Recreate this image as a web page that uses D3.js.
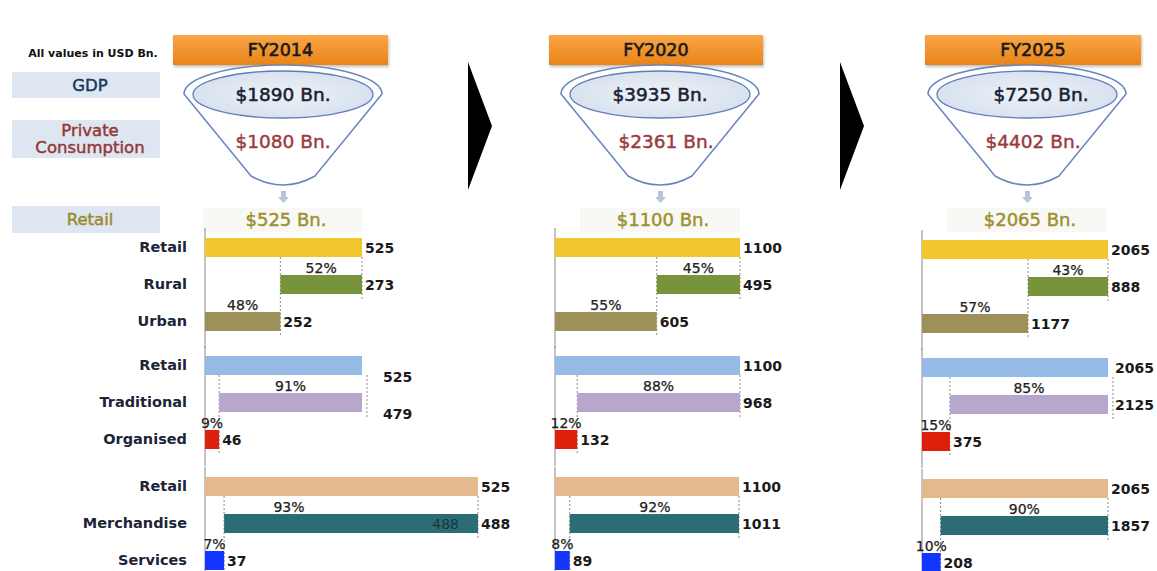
<!DOCTYPE html>
<html>
<head>
<meta charset="utf-8">
<script src="https://cdn.jsdelivr.net/npm/d3@7"></script>
<style>
  body { margin: 0; background: #fff; }
  svg { display: block; font-family: "DejaVu Sans", Verdana, sans-serif; }
</style>
</head>
<body>
<div id="container"></div>
<script>
// values (USD Bn.)
const years = ["FY2014", "FY2020", "FY2025"];
const gdp = [1890, 3935, 7250];
const privateConsumption = [1080, 2361, 4402];
const retail = [525, 1100, 2065];

const rural = [273, 495, 888];
const ruralPct = [52, 45, 43];
const urban = [252, 605, 1177];
const urbanPct = [48, 55, 57];

const traditional = [479, 968, 2125];
const traditionalPct = [91, 88, 85];
const organised = [46, 132, 375];
const organisedPct = [9, 12, 15];

const merchandise = [488, 1011, 1857];
const merchandisePct = [93, 92, 90];
const services = [37, 89, 208];
const servicesPct = [7, 8, 10];

const leftLabels = ["GDP", "Private Consumption", "Retail"];

const groups = [
  { names: ["Retail", "Rural", "Urban"], colors: ["#f1c62f", "#77933c", "#9d9058"],
    second: rural, secondPct: ruralPct, third: urban, thirdPct: urbanPct },
  { names: ["Retail", "Traditional", "Organised"], colors: ["#95bbe6", "#b7a7cc", "#dd1f0c"],
    second: traditional, secondPct: traditionalPct, third: organised, thirdPct: organisedPct },
  { names: ["Retail", "Merchandise", "Services"], colors: ["#e3b98d", "#2c6c77", "#1336ff"],
    second: merchandise, secondPct: merchandisePct, third: services, thirdPct: servicesPct }
];

const width = 1157, height = 571;

// layout
const x0 = [205, 555, 922];
const barW = [[157, 157, 273], [185, 185, 184], [186, 186, 186]];
const labelW = [157, 185, 186];
const groupTop = [238, 356, 477];
const panelDy = [0, 0, 2];
const funnelCx = [283, 660, 1027];
const header = [[173, 388], [549, 763], [925, 1141]];
const valueShift = { "0-1": [18, 11], "2-1": [4, 0] };

const svg = d3.select("#container").append("svg")
  .attr("width", width).attr("height", height);

// semi-bold look: normal face with a thin stroke of the same colour
const semi = (sel, color, w = 0.45) =>
  sel.attr("font-weight", "normal").attr("fill", color).attr("stroke", color).attr("stroke-width", w);

const defs = svg.append("defs");
const og = defs.append("linearGradient").attr("id", "orange").attr("x1", 0).attr("y1", 0).attr("x2", 0).attr("y2", 1);
og.append("stop").attr("offset", "0%").attr("stop-color", "#f9a646");
og.append("stop").attr("offset", "100%").attr("stop-color", "#e8841a");
const eg = defs.append("radialGradient").attr("id", "ell");
eg.append("stop").attr("offset", "0%").attr("stop-color", "#eef2f8");
eg.append("stop").attr("offset", "100%").attr("stop-color", "#d8e2ee");
defs.append("filter").attr("id", "shadow").attr("x", "-5%").attr("y", "-20%").attr("width", "110%").attr("height", "160%")
  .append("feDropShadow").attr("dx", 1).attr("dy", 2).attr("stdDeviation", 1.5).attr("flood-color", "#000").attr("flood-opacity", 0.25);

// left side labels
svg.append("text").attr("x", 93).attr("y", 57).attr("text-anchor", "middle")
  .attr("font-size", 11).attr("font-weight", "bold").attr("fill", "#111")
  .text("All values in USD Bn.");

const boxes = [
  { y: 72, h: 26, color: "#17375e", lines: [leftLabels[0]] },
  { y: 120, h: 38, color: "#953735", lines: ["Private", "Consumption"] },
  { y: 206, h: 27, color: "#9a8a2c", lines: [leftLabels[2]] }
];
boxes.forEach(b => {
  svg.append("rect").attr("x", 12).attr("y", b.y).attr("width", 148).attr("height", b.h)
    .attr("fill", "#dde6f1");
  b.lines.forEach((t, i) => {
    svg.append("text").attr("x", 90)
      .attr("y", b.y + b.h / 2 + (i - (b.lines.length - 1) / 2) * 17)
      .attr("dy", "0.35em").attr("text-anchor", "middle")
      .attr("font-size", 16.5).call(semi, b.color, 0.45).text(t);
  });
});

// chevrons between panels
[468, 840].forEach(ax => {
  svg.append("path").attr("d", `M${ax},62 L${ax + 24},126 L${ax},190 Z`).attr("fill", "#000");
});

years.forEach((yr, p) => {
  const cx = funnelCx[p];
  // header
  const [hx1, hx2] = header[p];
  svg.append("rect").attr("x", hx1).attr("y", 35).attr("width", hx2 - hx1).attr("height", 30)
    .attr("fill", "url(#orange)").attr("filter", "url(#shadow)");
  svg.append("text").attr("x", (hx1 + hx2) / 2).attr("y", 50).attr("dy", "0.36em")
    .attr("text-anchor", "middle").attr("font-size", 17.5).call(semi, "#1a1a1a", 0.6)
    .text(yr);

  // funnel
  svg.append("path")
    .attr("d", `M${cx - 99},94 A99,29 0 0 1 ${cx + 99},94 L${cx + 32},176 Q${cx},194 ${cx - 32},176 Z`)
    .attr("fill", "#fff").attr("stroke", "#6a86c0").attr("stroke-width", 1.6);
  svg.append("ellipse").attr("cx", cx).attr("cy", 94.5).attr("rx", 90).attr("ry", 23.5)
    .attr("fill", "url(#ell)").attr("stroke", "#5e7db8").attr("stroke-width", 1.3);
  svg.append("text").attr("x", cx + (p === 2 ? 14 : 0)).attr("y", 94).attr("dy", "0.36em")
    .attr("text-anchor", "middle").attr("font-size", 18.5).call(semi, "#1b2233", 0.55)
    .text(`$${gdp[p]} Bn.`);
  svg.append("text").attr("x", cx + (p === 0 ? 0 : 6)).attr("y", 141).attr("dy", "0.36em")
    .attr("text-anchor", "middle").attr("font-size", 18.5).call(semi, "#9b3b3f", 0.45)
    .text(`$${privateConsumption[p]} Bn.`);

  // small arrow
  svg.append("path")
    .attr("d", `M${cx - 2},191 h5 v6 h3 l-5.5,6 l-5.5,-6 h3 Z`)
    .attr("fill", "#b9c4d8");

  svg.append("rect").attr("x", cx - 80).attr("y", 208).attr("width", 160).attr("height", 24)
    .attr("fill", "#f8f8f5");
  svg.append("text").attr("x", cx + 3).attr("y", 220).attr("dy", "0.36em")
    .attr("text-anchor", "middle").attr("font-size", 18).call(semi, "#a08f2f", 0.45)
    .text(`$${retail[p]} Bn.`);

  // bar groups
  groups.forEach((g, gi) => {
    const top = groupTop[gi] + panelDy[p];
    const total = retail[p];
    const split = total * g.thirdPct[p] / 100;
    const x = d3.scaleLinear().domain([0, total]).range([x0[p], x0[p] + barW[p][gi]]);
    const xl = d3.scaleLinear().domain([0, total]).range([x0[p], x0[p] + labelW[p]]);
    const y = d3.scaleBand().domain(g.names).range([top, top + 93]).paddingInner(0.486).paddingOuter(0);
    const bh = y.bandwidth();
    const shift = valueShift[`${p}-${gi}`] || [0, 0];

    const rows = [
      { name: g.names[0], a: 0, b: total, label: total, color: g.colors[0] },
      { name: g.names[1], a: split, b: total, label: g.second[p], color: g.colors[1], pct: g.secondPct[p] },
      { name: g.names[2], a: 0, b: split, label: g.third[p], color: g.colors[2], pct: g.thirdPct[p] }
    ];
    const grp = svg.append("g");

    // axis line
    grp.append("line").attr("x1", x0[p]).attr("x2", x0[p])
      .attr("y1", top - 10).attr("y2", Math.min(top + 110, height))
      .attr("stroke", "#8a8a8a").attr("stroke-width", 1);

    // dashed guides
    grp.append("line").attr("x1", x(split)).attr("x2", x(split))
      .attr("y1", y(g.names[0]) + bh).attr("y2", y(g.names[2]) + bh + 4)
      .attr("stroke", "#8c8c8c").attr("stroke-dasharray", "2,2");
    grp.append("line").attr("x1", x(total) + (shift[0] ? 5 : 0)).attr("x2", x(total) + (shift[0] ? 5 : 0))
      .attr("y1", y(g.names[0]) + bh).attr("y2", y(g.names[1]) + bh + 6)
      .attr("stroke", "#8c8c8c").attr("stroke-dasharray", "2,2");

    grp.selectAll("rect.bar").data(rows).enter().append("rect")
      .attr("class", "bar")
      .attr("x", d => x(d.a)).attr("y", d => y(d.name))
      .attr("width", d => x(d.b) - x(d.a)).attr("height", bh)
      .attr("fill", d => d.color);

    // value labels
    grp.selectAll("text.val").data(rows).enter().append("text")
      .attr("class", "val")
      .attr("x", (d, i) => x(d.b) + 3 + (i < 2 ? shift[0] : 0))
      .attr("y", (d, i) => y(d.name) + bh / 2 + (i < 2 ? shift[1] : 0))
      .attr("dy", "0.36em")
      .attr("font-size", 14).attr("font-weight", "bold").attr("fill", "#1a1a1a")
      .text(d => d.label);

    // percentage labels
    grp.append("text")
      .attr("x", (xl(split) + xl(total)) / 2).attr("y", y(g.names[1]) - 2)
      .attr("text-anchor", "middle").attr("font-size", 14).call(semi, "#222", 0.25)
      .text(`${rows[1].pct}%`);
    grp.append("text")
      .attr("x", (x(0) + x(split)) / 2).attr("y", y(g.names[2]) - 2)
      .attr("text-anchor", "middle").attr("font-size", 14).call(semi, "#222", 0.25)
      .text(`${rows[2].pct}%`);

    if (p === 0 && gi === 2) {
      grp.append("text").attr("x", x(total) - 19).attr("y", y(g.names[1]) + bh / 2).attr("dy", "0.36em")
        .attr("text-anchor", "end").attr("font-size", 14).attr("fill", "#17363c")
        .text(g.second[p]);
    }

    // row labels (first panel only)
    if (p === 0) {
      grp.append("g")
        .attr("transform", `translate(${x0[p]},0)`)
        .call(d3.axisLeft(y).tickSize(0).tickPadding(18))
        .call(a => a.select(".domain").remove())
        .selectAll("text")
        .attr("font-family", "DejaVu Sans, Verdana, sans-serif")
        .attr("font-size", 14.5).attr("font-weight", "bold").attr("fill", "#1c2438");
    }
  });
});
</script>
</body>
</html>
